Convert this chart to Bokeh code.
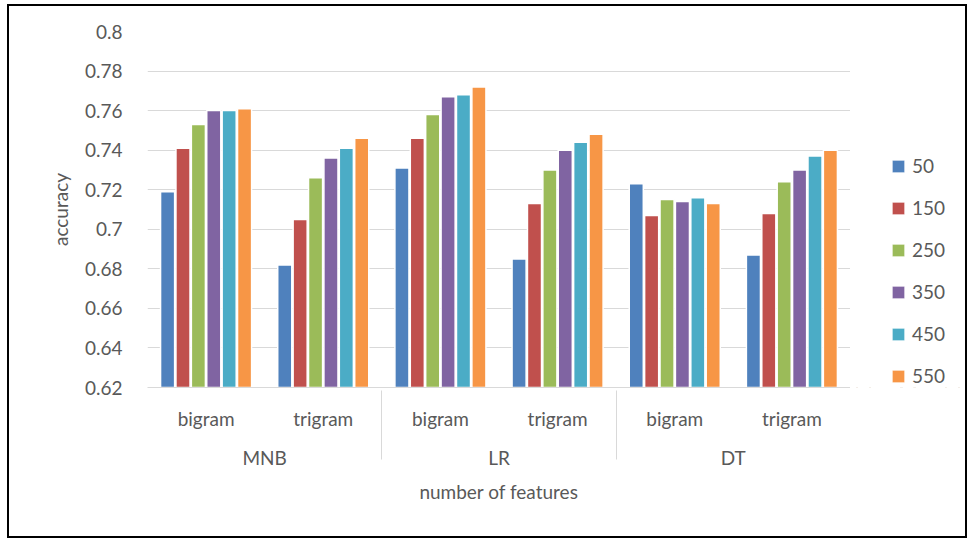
from bokeh.plotting import figure
from bokeh.layouts import row
from bokeh.models import FactorRange, Range1d, FixedTicker, Legend, LegendItem, ColumnDataSource
from bokeh.transform import dodge
from bokeh.embed import file_html
from bokeh.resources import INLINE

# ---- data ----
classifiers = ["MNB", "LR", "DT"]
ngrams = ["bigram", "trigram"]
feature_counts = ["50", "150", "250", "350", "450", "550"]

acc_50  = [0.719, 0.682, 0.731, 0.685, 0.723, 0.687]
acc_150 = [0.741, 0.705, 0.746, 0.713, 0.707, 0.708]
acc_250 = [0.753, 0.726, 0.758, 0.730, 0.715, 0.724]
acc_350 = [0.760, 0.736, 0.767, 0.740, 0.714, 0.730]
acc_450 = [0.760, 0.741, 0.768, 0.744, 0.716, 0.737]
acc_550 = [0.761, 0.746, 0.772, 0.748, 0.713, 0.740]

y_ticks = [0.62, 0.64, 0.66, 0.68, 0.70, 0.72, 0.74, 0.76, 0.78, 0.80]
y_tick_labels = ["0.62", "0.64", "0.66", "0.68", "0.7", "0.72", "0.74", "0.76", "0.78", "0.8"]

colors = ["#4F81BD", "#C0504D", "#9BBB59", "#8064A2", "#4BACC6", "#F79646"]

FONT = "Lato"
TXT = "#595959"
GRID = "#D9D9D9"
FS = "19px"

factors = [(c, n) for c in classifiers for n in ngrams]
series = [acc_50, acc_150, acc_250, acc_350, acc_450, acc_550]

src = ColumnDataSource(data=dict(x=factors, **{f"s{i}": s for i, s in enumerate(series)}))

# ---- main chart ----
p = figure(
    width=841, height=530,
    x_range=FactorRange(*factors, range_padding=0, group_padding=0, factor_padding=0),
    y_range=Range1d(0.62, 0.80),
    output_backend="svg", toolbar_location=None,
    min_border_left=138, min_border_right=0, min_border_top=25, min_border_bottom=149,
)

pitch = 0.1314
for i, col in enumerate(colors):
    p.vbar(x=dodge("x", (i - 2.5) * pitch, range=p.x_range), top=f"s{i}", bottom=0.62,
           width=0.12, source=src, fill_color=col, line_color="white", line_width=1.5)

p.outline_line_color = None
p.xgrid.grid_line_color = None
p.ygrid.grid_line_color = GRID
p.ygrid.ticker = FixedTicker(ticks=y_ticks)

ya = p.yaxis[0]
ya.ticker = FixedTicker(ticks=y_ticks)
ya.major_label_overrides = {t: l for t, l in zip(y_ticks, y_tick_labels)}
ya.axis_line_color = None
ya.major_tick_line_color = None
ya.minor_tick_line_color = None
ya.major_label_standoff = 19
ya.major_label_text_font = FONT
ya.major_label_text_font_size = FS
ya.major_label_text_color = TXT
ya.axis_label = "accuracy"
ya.axis_label_text_font = FONT
ya.axis_label_text_font_size = FS
ya.axis_label_text_font_style = "normal"
ya.axis_label_text_color = TXT
ya.axis_label_standoff = 10

xa = p.xaxis[0]
xa.axis_line_color = GRID
xa.major_tick_line_color = None
xa.minor_tick_line_color = None
xa.major_label_standoff = 13
xa.major_label_text_font = FONT
xa.major_label_text_font_size = FS
xa.major_label_text_color = TXT
xa.group_text_font = FONT
xa.group_text_font_size = FS
xa.group_text_color = TXT
xa.group_text_font_style = "normal"
xa.separator_line_color = GRID
xa.separator_line_width = 1
xa.axis_label = "number of features"
xa.axis_label_text_font = FONT
xa.axis_label_text_font_size = FS
xa.axis_label_text_font_style = "normal"
xa.axis_label_text_color = TXT
xa.axis_label_standoff = 8

# ---- legend panel (same series, drawn off-range so only the legend shows) ----
lf = figure(width=115, height=530, x_range=FactorRange(*factors), y_range=Range1d(1, 2),
            output_backend="svg", toolbar_location=None, min_border=0)
lf.axis.visible = False
lf.grid.grid_line_color = None
lf.outline_line_color = None
items = []
for i, (name, col) in enumerate(zip(feature_counts, colors)):
    r = lf.vbar(x="x", top=f"s{i}", bottom=0.62, width=0.1, source=src,
                fill_color=col, line_color="white", line_width=1)
    items.append(LegendItem(label=name, renderers=[r]))
legend = Legend(items=items, location=(40, 0), padding=0, margin=0, spacing=19,
                label_height=21, glyph_height=16, glyph_width=16, label_standoff=6,
                border_line_color=None, background_fill_alpha=0,
                label_text_font=FONT, label_text_font_size=FS, label_text_color=TXT)
lf.add_layout(legend, "center")

root = row(p, lf, styles={"border": "2px solid black", "margin-left": "7px", "margin-top": "4px"})

open("out.html", "w").write(file_html(root, INLINE))
